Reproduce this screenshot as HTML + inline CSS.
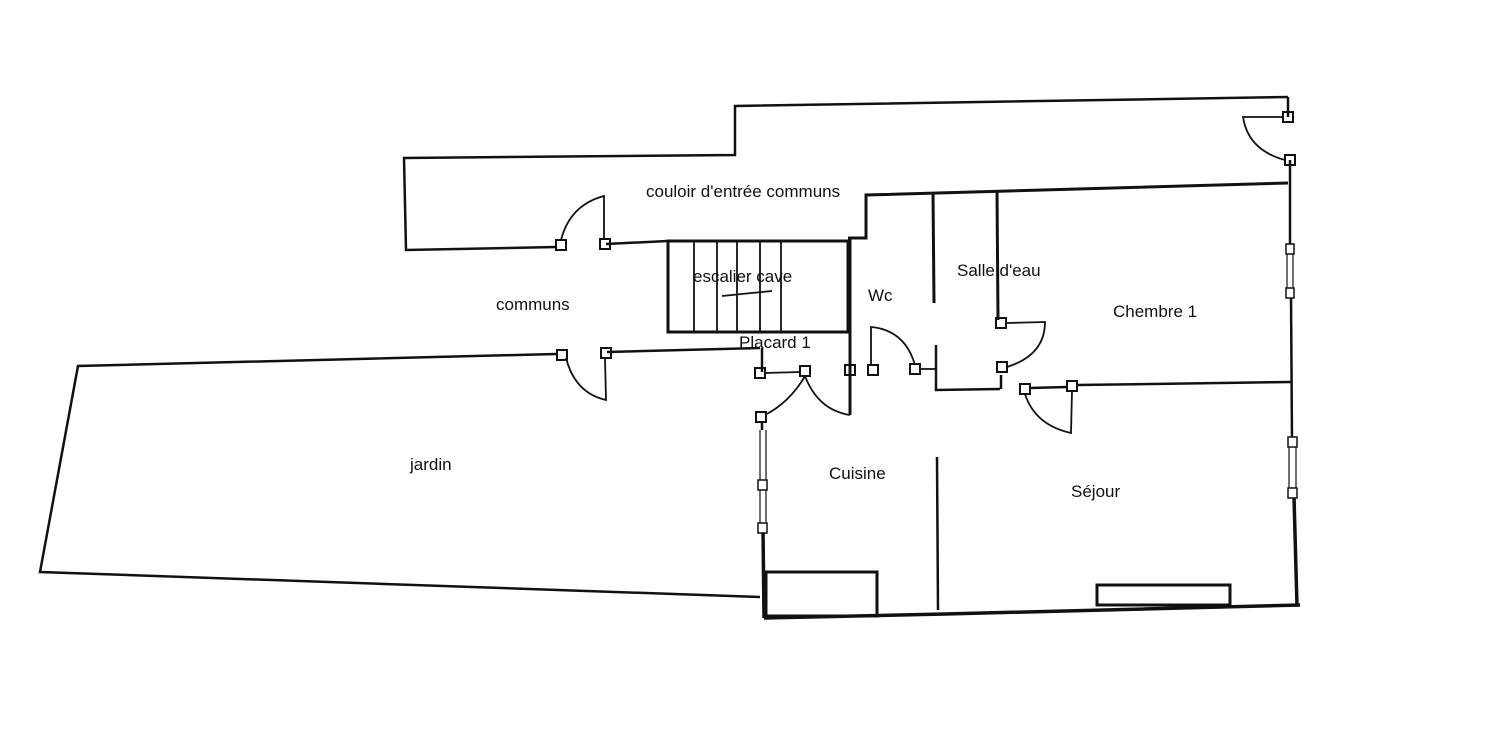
<!DOCTYPE html>
<html><head><meta charset="utf-8"><style>
html,body{margin:0;padding:0;background:#fff;}
svg{display:block}
text{font-family:"Liberation Sans",sans-serif;font-size:17px;fill:#111}
</style></head><body>
<svg width="1502" height="734" viewBox="0 0 1502 734" xmlns="http://www.w3.org/2000/svg">
<g fill="none" stroke="#111" stroke-width="2.5">
<!-- corridor outer -->
<polyline points="1288,97 735,106 735,155 404,158 406,250 556,247"/>
<line x1="606" y1="244" x2="668" y2="241"/>
<!-- corridor lower line to right -->
<polyline points="848,238 866,238 866,195 1288,183" stroke-width="3"/>
<!-- right wall -->
<line x1="1288" y1="97" x2="1288" y2="117"/>
<line x1="1290" y1="160" x2="1290" y2="248"/>
<line x1="1291" y1="297" x2="1292" y2="440"/>
<line x1="1294" y1="497" x2="1297" y2="606" stroke-width="3.5"/>
<!-- windows right -->
<g stroke-width="1.2">
<line x1="1287" y1="250" x2="1287" y2="295"/><line x1="1293" y1="250" x2="1293" y2="295"/>
<line x1="1289" y1="442" x2="1289" y2="495"/><line x1="1296" y1="442" x2="1296" y2="495"/>
<line x1="760" y1="430" x2="760" y2="528"/><line x1="766" y1="430" x2="766" y2="528"/>
</g>
<!-- top right door -->
<rect x="1283" y="112" width="10" height="10" stroke-width="2"/>
<rect x="1285" y="155" width="10" height="10" stroke-width="2"/>
<path d="M1283,117 L1243,117 Q1248,150 1285,160" stroke-width="1.8"/>
<!-- stair -->
<rect x="668" y="241" width="180" height="91" stroke-width="3"/>
<g stroke-width="1.8">
<line x1="694" y1="241" x2="694" y2="332"/><line x1="717" y1="241" x2="717" y2="332"/>
<line x1="737" y1="241" x2="737" y2="332"/><line x1="760" y1="241" x2="760" y2="332"/>
<line x1="781" y1="241" x2="781" y2="332"/>
<line x1="722" y1="296" x2="772" y2="291"/>
</g>
<line x1="850" y1="238" x2="850" y2="415" stroke-width="3"/>
<!-- communs lower / jardin -->
<polyline points="556,354 78,366 40,572 760,597" stroke-width="2.5"/>
<line x1="607" y1="352" x2="760" y2="348"/>
<line x1="762" y1="348" x2="762" y2="372"/>
<!-- communs doors -->
<rect x="556" y="240" width="10" height="10" stroke-width="2"/>
<rect x="600" y="239" width="10" height="10" stroke-width="2"/>
<path d="M604,240 L604,196 Q570,205 561,240" stroke-width="1.8"/>
<rect x="557" y="350" width="10" height="10" stroke-width="2"/>
<rect x="601" y="348" width="10" height="10" stroke-width="2"/>
<path d="M605,358 L606,400 Q575,393 566,358" stroke-width="1.8"/>
<!-- placard doors -->
<rect x="755" y="368" width="10" height="10" stroke-width="2"/>
<rect x="800" y="366" width="10" height="10" stroke-width="2"/>
<line x1="765" y1="373" x2="800" y2="372" stroke-width="1.8"/>
<path d="M805,376 Q818,410 850,415" stroke-width="1.8"/>
<path d="M805,376 Q790,402 765,415" stroke-width="1.8"/>
<rect x="756" y="412" width="10" height="10" stroke-width="2"/>
<!-- wc door -->
<rect x="845" y="365" width="10" height="10" stroke-width="2"/>
<rect x="868" y="365" width="10" height="10" stroke-width="2"/>
<path d="M871,365 L871,327 Q905,330 915,365" stroke-width="1.8"/>
<rect x="910" y="364" width="10" height="10" stroke-width="2"/>
<line x1="920" y1="369" x2="936" y2="369" stroke-width="1.8"/>
<!-- partitions -->
<line x1="933" y1="193" x2="934" y2="303" stroke-width="3"/>
<line x1="997" y1="190" x2="998" y2="320" stroke-width="3"/>
<polyline points="936,345 936,390 1000,389"/>
<line x1="1001" y1="375" x2="1001" y2="389"/>
<line x1="1030" y1="388" x2="1067" y2="387"/>
<line x1="1077" y1="385" x2="1292" y2="382"/>
<!-- salle d'eau door -->
<rect x="996" y="318" width="10" height="10" stroke-width="2"/>
<rect x="997" y="362" width="10" height="10" stroke-width="2"/>
<path d="M1006,323 L1045,322 Q1045,355 1007,367" stroke-width="1.8"/>
<!-- sejour door -->
<rect x="1020" y="384" width="10" height="10" stroke-width="2"/>
<rect x="1067" y="381" width="10" height="10" stroke-width="2"/>
<path d="M1072,391 L1071,433 Q1035,425 1025,394" stroke-width="1.8"/>
<!-- cuisine walls -->
<line x1="762" y1="422" x2="762" y2="430"/>
<line x1="763" y1="528" x2="764" y2="618" stroke-width="3.5"/>
<polyline points="764,618 945,614 1300,605" stroke-width="3.5"/>
<line x1="937" y1="457" x2="938" y2="610" stroke-width="2.5"/>
<rect x="766" y="572" width="111" height="44" stroke-width="3"/>
<rect x="1097" y="585" width="133" height="20" stroke-width="3"/>
</g>
<!-- window markers -->
<g fill="#fff" stroke="#111" stroke-width="1.5">
<rect x="1286" y="244" width="8" height="10"/><rect x="1286" y="288" width="8" height="10"/>
<rect x="1288" y="437" width="9" height="10"/><rect x="1288" y="488" width="9" height="10"/>
<rect x="758" y="480" width="9" height="10"/><rect x="758" y="523" width="9" height="10"/>
</g>
<text x="646" y="197">couloir d'entrée communs</text>
<text x="693" y="282">escalier cave</text>
<text x="868" y="301">Wc</text>
<text x="957" y="276">Salle d'eau</text>
<text x="1113" y="317">Chembre 1</text>
<text x="496" y="310">communs</text>
<text x="739" y="348">Placard 1</text>
<text x="410" y="470">jardin</text>
<text x="829" y="479">Cuisine</text>
<text x="1071" y="497">Séjour</text>
</svg>
</body></html>
